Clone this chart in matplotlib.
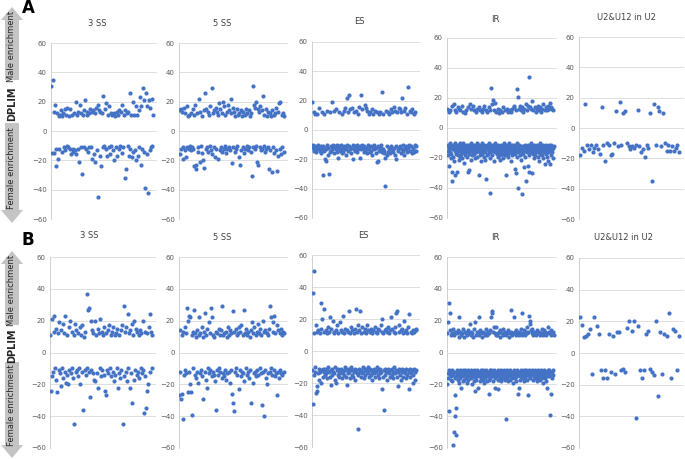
import numpy as np
import matplotlib
matplotlib.use("Agg")
import matplotlib.pyplot as plt
from matplotlib.patches import Polygon

# DPLIM values, one point per event, in x order (index = x position)
ss3_a = [31, -15, 35, -15, 13, 18, -12, -24, 12, -19, 10, -12, 11, 14, -14, 10, 12, -11, 15, -13,
         11, -10, 16, -11, 10, -12, 15, -16, 11, -12, -14, 12, -13, 20, -16, 11, -12, 13, -21, 18,
         -11, 12, -29, 11, 14, -11, 21, -12, 13, 11, -14, 12, -11, 15, -11, 13, -19, 14, -16, 12,
         -21, 16, -13, 18, -45, 14, -17, 13, -24, 12, -11, 24, -10, 15, -12, 19, -17, 11, -11, 17,
         -16, 12, -10, 11, -13, 12, -20, 10, -11, 13, -17, 11, -12, 14, -10, 13, -15, 18, -11, 11,
         -32, 14, -26, 12, -10, 13, -17, 26, -12, 11, -18, 20, -14, 11, -13, 17, -20, 11, -17, 14,
         -11, 23, -23, 17, -12, 29, -14, 21, -39, 26, -16, 17, -42, 21, -13, 16, -11, 22, -10, 11]

ss5_a = [14, -16, 15, -12, 13, -19, -11, 16, -13, 12,
         -18, 17, -11, 10, -12, 11, -10, 12, -13, -11,
         15, -12, 11, -24, 18, -26, -23, 12, -11, -14,
         22, -21, 13, -10, -15, 10, -20, 14, -25, 26,
         -12, 15, -11, 13, -14, 11, -10, 17, -13, 29,
         -16, 12, -11, 14, -18, 16, -12, 13, -19, 11,
         19, -13, 15, -11, 12, -14, 20, -12, 17, -10,
         11, -15, 13, -12, 18, -11, 14, -13, 12, 22,
         -22, 16, -11, 13, -14, 10, -12, 15, -10, 11,
         -18, 12, -23, 14, -13, 10, -11, 13, -15, 11,
         -12, 15, -10, 12, -13, 14, -11, 10, -14, 12,
         -31, 31, -11, 18, -12, 16, -10, 20, -21, 15,
         -23, 13, -11, 17, -13, 14, -12, 24, -10, 11,
         -14, 15, -12, 10, -11, 13, -26, 12, -13, 10,
         -28, 14, -11, 11, -15, 12, -13, 16, -27, 13,
         -17, 19, -12, 20, -16, 11, -11, 12, -14, 10]

es_a = [19, -10, -12, 12, -14, -11, 11, -13, -15, -12,
        11, -10, -13, 15, -12, -14, -11, -16, 12, -13,
        -31, -11, -14, 11, -12, -20, -13, -21, -10, 13,
        -17, -12, -30, -15, 12, -11, -14, -13, 19, -12,
        -10, 13, -16, -12, -11, 14, -13, -15, -10, -12,
        -19, -11, 12, -14, -13, -10, -16, 11, -12, -15,
        13, -11, -13, 15, -12, -17, 22, -10, -14, 12,
        -11, 24, -13, 14, -12, -16, 15, -10, -20, -13,
        12, -11, -14, 13, -12, -15, -10, 11, -13, -12,
        16, -11, -19, 24, -13, -10, 14, -12, -15, -11,
        17, -14, 15, -12, -16, 13, -10, -13, 11, -12,
        -15, 12, -11, -14, 14, -17, -12, 11, -13, -10,
        13, -12, -16, 12, -22, -21, -11, 11, -14, -13,
        12, -10, -12, 26, -15, -13, 11, -16, -14, -38,
        -19, 13, -11, -17, 12, -15, -13, 11, -12, -16,
        14, -11, -14, 12, -15, -13, 16, -12, -17, 13,
        -11, -20, 12, -14, -13, 15, -12, -11, 14, -16,
        12, -13, 22, -10, -14, 13, -17, -12, 15, -11,
        -13, 11, -15, 29, -12, -10, 13, -14, -11, 12,
        -16, 14, -12, -13, 11, -15, -10, 12, -14, -11]

ir_a = [-12, 13, -15, -18, -11, 11, -14, -25, -13, -16, 12, -10, -20, -17, -12,
        -29, -35, 15, -13, -11, -19, -14, 16, -12, -22, -15, -31, 12, -10, -17,
        -13, 11, -16, -12, -29, 14, -18, -11, -14, -21, 13, -12, -15, -10, -19,
        12, -14, -11, -17, -13, 15, -20, -12, -16, 11, -10, -15, -23, -13, -12,
        -18, 10, -11, -14, -16, 12, -13, -19, -12, -15, 14, -29, -11, -17, -14,
        -28, -13, 16, -12, -15, -10, -21, 13, -14, -11, -18, -16, 15, -12, -13,
        -11, -17, 12, -15, -13, -20, -14, 11, -12, -16, -10, -19, 13, -14, -12,
        -15, 14, -13, -31, -11, -18, 12, -16, -12, -14, -22, 11, -13, -17, -10,
        13, -12, -15, -19, -11, 15, -14, -16, -13, -21, 12, -12, -34, -18, -11,
        -14, 11, -13, -17, -12, 14, -15, -10, -20, -16, 12, -43, -13, -11, 27,
        -12, -18, 16, -14, -11, 19, -15, -13, -22, 12, -16, -12, -10, 17, -14,
        -13, 11, -17, -12, -15, 13, -19, -11, -14, -16, 10, -12, -21, -13, -18,
        12, -15, -11, -14, -13, 11, -17, -12, -20, -16, 14, -10, -13, -15, -12,
        -18, 12, -14, -11, -31, -16, 13, -12, -15, -19, -13, 11, -17, -14, -10,
        -13, 12, -16, -12, -22, 11, -14, -15, -11, -18, 13, -12, -16, -13, 15,
        -11, -14, 14, -17, -12, -27, 12, -15, -30, -13, 26, -10, -19, 21, -16,
        -40, -12, 13, -14, -11, 15, -18, -13, -15, -21, 12, -12, -16, -44, 14,
        -13, -17, 11, -26, -12, -15, 13, -14, -19, -11, 16, -13, -35, -16, 12,
        -12, -14, 15, -25, -11, 34, -18, -29, -13, -15, 14, -12, -16, -10, 13,
        -30, -14, 18, -12, -17, -13, 12, -15, -20, -11, 14, -16, -13, -18, 11,
        -12, -15, 13, -14, -11, -19, 15, -13, -16, -12, 12, -22, -14, -10, 14,
        -17, -13, 11, -15, -12, -18, 13, -14, -11, -20, 16, -16, -13, -12, 12,
        -24, -15, 14, -11, -17, -13, 12, -19, -14, -12, 15, -16, -22, -11, 13,
        -13, -24, 17, -15, -12, 14, -18, -11, -16, 13, -14, -20, 12, -13, -12]

u2_a = [-18, -13, -15, 16, -11, -14, -11, -16, -13, -11, -14, -17, 14, -11, -22, -10,
        -11, -18, -17, -10, 11, -12, 17, -11, 10, 11, -10, -12, -14, -12, -13, -11,
        12, -12, -16, -14, -19, -11, -13, 10, -35, 16, -11, 14, 11, -12, 10, -10,
        -15, -11, -15, -12, -15, -13, -11, -16]

ss3_b = [11, -24, 21, -15, -12, 13, 23, -10, -17, 15,
         -25, 12, -11, 19, -13, -21, 14, -10, 18, -16,
         12, -12, 23, -19, 11, -14, -20, 16, -11, 20,
         -13, 13, -10, -16, 11, -45, 18, -12, 14, -11,
         12, -15, -10, 16, -20, 11, -12, 17, -36, 10,
         -11, 13, -14, 37, -10, 27, -12, 28, -28, 20,
         -11, 14, -13, 12, -17, 20, -18, 11, -13, 15,
         -22, 12, -10, 21, -15, 13, -11, 11, -14, 16,
         -24, 12, -27, -11, 14, -13, 17, -10, 11, -15,
         13, -12, 16, -18, 11, -14, 12, -10, 15, -22,
         -13, 11, -16, 14, -11, 17, -45, 29, -15, 13,
         -12, 16, -18, 24, -10, 12, -22, 14, -13, 18,
         -32, 11, -17, 20, -11, 15, -14, 13, -12, 11,
         -16, 14, -10, 12, -13, 20, -11, -38, 13, -15,
         -35, 12, -24, -20, 16, 24, -12, 13, -10, 11]

ss5_b = [-27, 14, -12, -29, 11, -26, -42, 13, -14, 16,
         -11, 12, -13, 28, -25, 20, -12, 23, -20, 22,
         -25, 11, -39, 13, -10, 27, -14, 12, -16, 10,
         -12, 14, -19, 11, 22, -13, 12, -11, 16, -15,
         10, -29, 13, -12, 25, -17, 11, -22, 15, -10,
         19, -13, 12, -11, 28, -15, 22, -12, 11, -14,
         10, -18, -36, 13, -11, 12, -14, 15, -10, 11,
         -12, 14, -16, 29, -13, 11, -15, 12, -11, 13,
         -17, 10, -13, 16, -12, 11, -19, 14, -11, 12,
         -26, 26, -32, 13, -37, -12, 15, -10, 11, -14,
         12, -23, 16, -11, 13, -15, 17, -12, 11, -13,
         27, -18, 12, -10, 15, -14, 11, -12, 13, -16,
         10, -11, 14, -32, 19, -19, 12, -13, 16, -12,
         11, -15, 13, -11, 18, -14, 12, -10, 15, -13,
         11, -33, 20, -12, -40, 13, -11, 14, -16, 12,
         -20, 11, -13, 15, -12, 29, -10, 22, -14, 13,
         19, -11, 23, -15, 12, -13, 17, -27, -12, 14,
         -16, 12, -11, 15, -13, 11, -14, 13, -12, 12]

es_b = [-12, 36, -33, 50, -15, 11, -13, -10, 16, -26,
        -22, 12, -25, -14, 13, -11, -18, 11, -13, 30,
        -20, 14, -12, 20, -16, -11, 26, -13, 12, -15,
        -11, 13, -14, -17, 11, -12, 15, -10, -13, 12,
        -16, 21, -21, -12, 14, -11, -15, 19, -13, 11,
        -14, 12, -10, -18, 13, -20, -12, 16, -11, -15,
        11, -13, -16, 18, -12, 13, -11, -14, 12, -17,
        -13, 22, -12, -15, 11, -10, 14, -16, -12, 13,
        -21, -11, 12, -14, 25, -13, -17, 11, -12, 15,
        -10, -15, 13, -12, -16, 11, -13, 14, -11, -18,
        26, -12, 12, -14, -15, 16, -49, -11, 13, -13,
        25, -16, -12, 11, -14, 15, -10, -13, 12, -17,
        -11, 14, -15, -12, 11, -13, 16, -14, -10, 13,
        -16, -12, 12, -11, -15, 14, -13, -18, 11, -12,
        13, -14, -11, 15, -16, -12, 12, -13, -10, 11,
        -15, 14, -12, -17, 13, -11, -14, 16, -13, 12,
        20, -24, -16, 11, -37, -12, 13, -15, -11, 14,
        -13, 12, -18, -11, 15, -14, -12, 11, -16, 13,
        -12, 21, -15, -11, 14, -13, -17, 12, -10, 15,
        -14, 11, -12, 24, -16, 25, -22, -13, 12, -11,
        16, -15, -12, 13, -18, -11, 14, -13, 11, -16,
        -12, 19, -14, 12, -11, -17, 13, -15, 11, -12,
        15, -24, -13, 23, -11, -16, 12, -14, 11, -12,
        -20, 13, -15, -11, 12, -18, -13, 14, -12, 13]

ir_b = [-20, 12, -13, -16, 19, -37, -11, 31, -14, 14, 25, -12, -15, 11, -17,
        -13, 12, -11, -18, 15, -14, -58, -50, -12, 11, -40, -27, -16, 13, -15,
        -52, -35, 12, -13, -11, -17, 14, -12, -15, 10, -19, 22, -14, -11, 13,
        -16, -12, -22, 11, -14, -13, 12, -18, -11, 15, -15, -12, 10, -17, -13,
        13, -11, -14, -16, 12, -12, -19, 11, -13, -15, 14, -11, -17, 12, -14,
        -12, 18, -15, -13, 11, -16, -11, 13, -20, -14, 12, -12, -15, 10, -18,
        -13, 15, -11, -24, 19, -16, -12, 11, -14, -17, 13, -13, -11, 12, -15,
        -22, 22, -14, -12, 11, -18, -13, 14, -11, -16, 12, -15, -12, 10, -14,
        -17, 13, -11, -13, 12, -19, -14, 11, -12, -16, 15, -13, -11, 12, -18,
        -14, 11, -12, -15, 13, -17, -26, 12, -11, 14, -13, -16, 22, -12, -11,
        25, -14, 26, -15, -12, 13, -18, -11, 16, -13, -22, 12, -14, -16, 11,
        -12, 16, -15, -13, 11, -17, -11, 12, -23, -14, 13, -12, -16, 10, -13,
        14, -11, -15, -18, 12, -13, -12, 11, -16, -14, 15, -11, -13, 12, -17,
        -15, 13, -12, -42, 11, -14, -16, 12, -11, -13, 14, -18, -12, 10, -15,
        -13, 12, -11, -17, 13, -14, -12, 27, -16, -15, 11, -13, -19, 12, -12,
        22, -14, -11, 13, -16, -12, 14, -18, -13, 11, -15, -11, 12, -26, -14,
        -12, 13, -22, -13, 11, -17, -15, 12, -11, -14, 15, -16, -12, 11, 25,
        -13, -15, 12, -11, -18, 14, -14, -12, 11, -16, 13, -13, -11, 12, -17,
        -14, 16, -12, -27, 13, -15, 23, -11, -13, 20, 18, -16, -12, 14, -14,
        12, -13, -11, 15, -17, -12, 11, -14, -15, 13, -11, -16, 12, -13, -12,
        -15, 11, -18, -12, 14, -13, -11, 12, -16, -14, 13, -12, -15, 11, -17,
        -13, 12, -11, -14, 15, -16, -12, 11, -19, -13, 12, -15, -11, 14, -12,
        -16, 13, -14, -12, 11, -18, -13, 12, -22, -11, 16, -15, -12, 13, -14,
        -11, 12, -39, -15, 11, -26, -13, 14, -12, -16, 12, -11, 13, -14, 11]

u2_b = [23, 18, 10, 11, 12, 15, -13, 23, 17, 12, -11, -16, -11, -16, 12, -12, 11,
        -13, 13, 13, -11, -10, -12, 16, 20, 14, 20, -41, 17, -11, -16, -11, 12, 14,
        -10, -12, -14, 20, -27, 13, -13, 12, 11, 25, -16, 15, 14, -11, 11]

titles = ["3 SS", "5 SS", "ES", "IR", "U2&U12 in U2"]
yticks = [-60, -40, -20, 0, 20, 40, 60]

W, H = 685, 459
blue = "#4472C4"
grey_arrow = "#c4c4c4"


def px_rect(l, r, t, b):
    return [l / W, 1 - b / H, (r - l) / W, (b - t) / H]


def draw_panel(fig, box, values, title, title_xy, overlay):
    ax = fig.add_axes(px_rect(*box))
    x = np.arange(len(values))
    ax.scatter(x, values, s=9, color=blue, linewidths=0, zorder=3)
    ax.set_ylim(-60, 60)
    ax.set_xlim(-0.5, len(values) * 1.03)
    ax.set_yticks(yticks)
    ax.set_xticks([])
    ax.tick_params(axis="y", length=0, pad=3, labelsize=5, labelcolor="#595959")
    ax.grid(axis="y", color="#d9d9d9", lw=0.6)
    ax.set_axisbelow(True)
    for s in ["top", "right", "bottom"]:
        ax.spines[s].set_visible(False)
    ax.spines["left"].set_color("#d0d0d0")
    ax.spines["left"].set_linewidth(0.7)
    overlay.text(title_xy[0], title_xy[1], title, ha="center", va="center",
                 fontsize=6, color="#404040")
    return ax


def arrow(overlay, y_tip, y_end, up=True):
    # vertical block arrow, pixel coords
    head = 13
    if up:
        pts = [(12, y_tip), (23, y_tip + head), (19, y_tip + head), (19, y_end),
               (5, y_end), (5, y_tip + head), (1, y_tip + head)]
    else:
        pts = [(12, y_tip), (23, y_tip - head), (19, y_tip - head), (19, y_end),
               (5, y_end), (5, y_tip - head), (1, y_tip - head)]
    overlay.add_patch(Polygon(pts, closed=True, facecolor=grey_arrow, edgecolor="none"))


fig = plt.figure(figsize=(6.85, 4.59), dpi=100)
overlay = fig.add_axes([0, 0, 1, 1])
overlay.set_xlim(0, W)
overlay.set_ylim(H, 0)
overlay.axis("off")

boxes_a = [(51, 157, 43, 219), (179, 288, 43, 219), (312, 420, 42, 218),
           (447, 557, 38, 218), (579, 684, 37, 219)]
boxes_b = [(50, 156, 257, 448), (179, 288, 257, 448), (312, 420, 255, 447),
           (447, 557, 257, 448), (579, 684, 258, 448)]
title_pos_a = [(97, 24), (222, 23), (359, 22), (495, 19), (626, 17)]
title_pos_b = [(89, 236), (222, 237), (363, 236), (495, 237), (623, 237)]

data_a = [ss3_a, ss5_a, es_a, ir_a, u2_a]
data_b = [ss3_b, ss5_b, es_b, ir_b, u2_b]

for i in range(5):
    draw_panel(fig, boxes_a[i], data_a[i], titles[i], title_pos_a[i], overlay)
    draw_panel(fig, boxes_b[i], data_b[i], titles[i], title_pos_b[i], overlay)

# left side arrows and labels
arrow(overlay, 7, 80, up=True)
arrow(overlay, 223, 123, up=False)
arrow(overlay, 251, 325, up=True)
arrow(overlay, 458, 362, up=False)

txt = dict(rotation=90, ha="center", va="center", fontsize=6, color="#262626")
overlay.text(12, 46, "Male enrichment", **txt)
overlay.text(12, 168, "Female enrichment", **txt)
overlay.text(12, 290, "Male enrichment", **txt)
overlay.text(12, 405, "Female enrichment", **txt)
overlay.text(12, 104, "DPLIM", rotation=90, ha="center", va="center",
             fontsize=7, fontweight="bold", color="#262626")
overlay.text(12, 346, "DPLIM", rotation=90, ha="center", va="center",
             fontsize=7, fontweight="bold", color="#262626")

overlay.text(28, 8, "A", ha="center", va="center", fontsize=12, fontweight="bold")
overlay.text(28, 240, "B", ha="center", va="center", fontsize=12, fontweight="bold")

fig.savefig("out.png", dpi=100)
